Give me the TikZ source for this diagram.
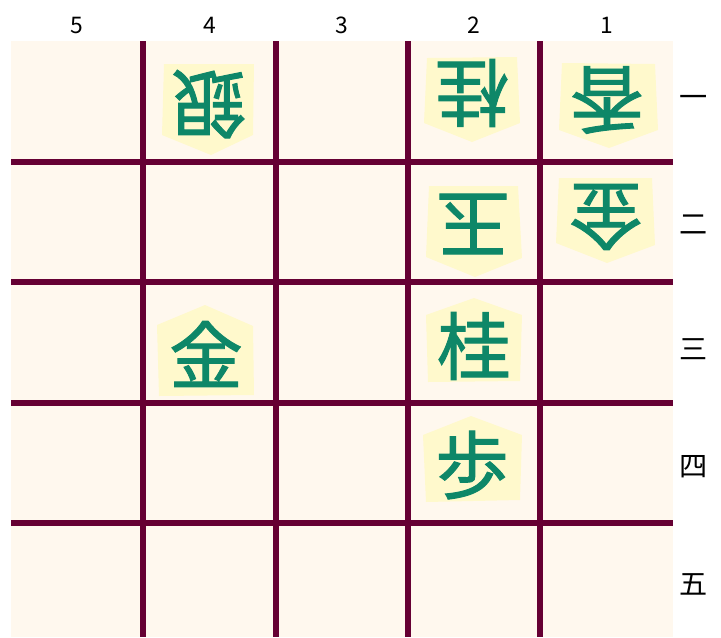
\documentclass[tikz,border=0pt]{standalone}
\usepackage{fontspec}
\usepackage{tikz}
\usepackage{xcolor}
\newfontfamily\jpfont{Noto Sans CJK JP}
\newfontfamily\piecefont[FakeBold=1.3]{Noto Sans CJK JP}
\definecolor{boardbg}{RGB}{255,248,238}
\definecolor{gridline}{RGB}{102,0,51}
\definecolor{piecebg}{RGB}{255,249,204}
\definecolor{piecetext}{RGB}{14,135,104}

\begin{document}
\begin{tikzpicture}[x=0.02cm,y=-0.02cm,
    kanji/.style={text=piecetext,inner sep=0pt,font=\piecefont\fontsize{42}{42}\selectfont},
    gote/.style={kanji,rotate=180},
    filelabel/.style={inner sep=0pt,font=\jpfont\fontsize{13}{13}\selectfont},
    ranklabel/.style={inner sep=0pt,font=\jpfont\fontsize{16}{16}\selectfont}]
  \useasboundingbox (0,0) rectangle (721,637);
  \fill[boardbg] (11,41) rectangle (673,637);
  % grid
  \foreach \x in {143,276,408,540} \draw[gridline,line width=3.4pt] (\x,41) -- (\x,637);
  \foreach \y in {162,282,403,523} \draw[gridline,line width=3.4pt] (11,\y) -- (673,\y);
  % file and rank labels
  \foreach \f/\x in {5/77,4/210,3/342,2/474,1/607}
    \node[filelabel] (file\f) at (\x,25) {\f};
  \foreach \r/\y/\k in {1/101/一,2/225/二,3/349/三,4/467/四,5/584/五}
    \node[ranklabel] (rank\r) at (694,\y) {\k};
  % opponent pieces (pointing down)
  \fill[piecebg] (164,64) -- (254,64) -- (253,135) -- (211,155) -- (162,135) -- cycle;
  \node[gote] (gin41) at (209,104) {銀};
  \fill[piecebg] (427,58) -- (517,57) -- (520,123) -- (472,142) -- (424,123) -- cycle;
  \node[gote] (kei21) at (472,93) {桂};
  \fill[piecebg] (562,63) -- (655,64) -- (658,130) -- (609,148) -- (559,130) -- cycle;
  \node[gote] (kyo11) at (607,100) {香};
  \fill[piecebg] (429,186) -- (518,186) -- (522,258) -- (475,277) -- (426,257) -- cycle;
  \node[gote] (gyoku22) at (473,224) {玉};
  \fill[piecebg] (559,178) -- (652,178) -- (655,245) -- (607,263) -- (556,243) -- cycle;
  \node[gote] (kin12) at (606,217) {金};
  % own pieces (pointing up)
  \fill[piecebg] (205,305) -- (253,326) -- (254,395) -- (159,396) -- (157,325) -- cycle;
  \node[kanji] (kin43) at (206,354) {金};
  \fill[piecebg] (474,298) -- (522,315) -- (520,381) -- (428,382) -- (426,315) -- cycle;
  \node[kanji] (kei23) at (474,346) {桂};
  \fill[piecebg] (471,416) -- (522,435) -- (520,500) -- (426,502) -- (423,435) -- cycle;
  \node[kanji] (fu24) at (472,465) {歩};
\end{tikzpicture}
\end{document}
